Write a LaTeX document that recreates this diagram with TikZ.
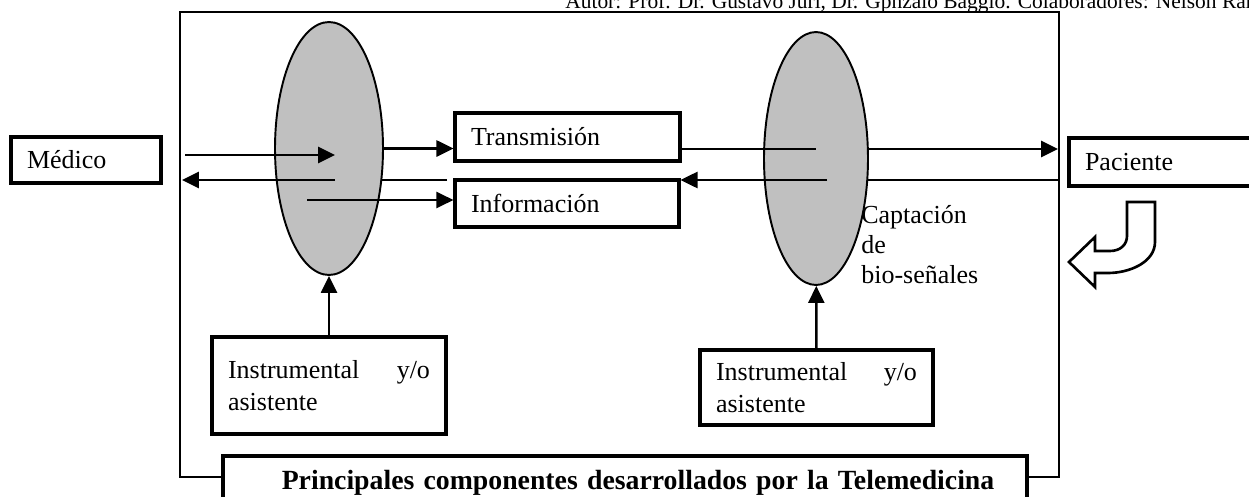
\documentclass[tikz,border=0pt]{standalone}
\usepackage{fontspec}
\setmainfont{Liberation Serif}
\usetikzlibrary{arrows.meta,shapes.geometric,backgrounds}
\definecolor{gris}{RGB}{192,192,192}

\tikzset{
  caja/.style={draw, line width=1.8pt, inner xsep=0.32cm, inner ysep=0pt, align=left,
               font=\fontsize{14.8}{18.2}\selectfont},
  ovalo/.style={ellipse, draw, line width=1.1pt, fill=gris, inner sep=0pt},
  flecha/.style={-{Triangle[length=0.34cm,width=0.32cm]}, line width=1.6pt},
  linea/.style={line width=1.6pt},
  marco/.style={line width=1.2pt},
}

\begin{document}
\begin{tikzpicture}[x=0.02cm,y=-0.02cm]
            \useasboundingbox (0,0) rectangle (1249,497);
            \clip (0,0) rectangle (1249,497);
            \node[anchor=base west, inner sep=0pt, font=\fontsize{12.2}{14}\selectfont] (autor) at (565,9)
                {Autor: Prof. Dr. Gustavo Juri, Dr. Gpnzalo Baggio. Colaboradores: Nelson Ram};
            \draw[marco] (180,12) rectangle (1059,477);

            \node[caja, text width=2.36cm, minimum height=0.92cm](medico)  at (86,160)     {Médico};
            \node[caja, text width=3.86cm, minimum height=0.96cm](trans)   at (567.5,137)  {Transmisión};
            \node[caja, text width=3.84cm, minimum height=0.94cm](info)    at (567,203.5)  {Información};
            \node[caja, text width=3.22cm, minimum height=0.96cm](paciente) at (1165.5,162) {Paciente};
            \node[caja, text width=4.04cm, minimum height=1.94cm](instizq) at (329,385.5)  {Instrumental\hfill y/o\\asistente};
            \node[caja, text width=4.02cm, minimum height=1.50cm](instder) at (816.5,387.5) {Instrumental\hfill y/o\\asistente};
            \node[caja, text width=15.44cm, minimum height=1.08cm, fill=white, align=center,
                  font=\bfseries\fontsize{15.8}{18}\selectfont](titulo) at (625,483)
                {\hspace*{0.52cm}Principales componentes desarrollados por la Telemedicina};

            \node[ovalo, minimum width=2.16cm, minimum height=5.06cm](izq) at (329,148.5) {};
            \node[ovalo, minimum width=2.08cm, minimum height=5.06cm](der) at (816,158.5) {};

            \node[anchor=north west, inner sep=0pt, align=left, font=\fontsize{14.8}{17.1}\selectfont](captacion)
                at (861,205) {Captación\\de\\bio-señales};

            \coordinate (m1) at (185,155);
            \coordinate (m2) at (182,180);
            \coordinate (i1) at (335,155);
            \coordinate (i2) at (335,180);
            \coordinate (i3) at (307,200);
            \coordinate (r1) at (447,180);
            \coordinate (d1) at (816,149);
            \coordinate (d2) at (827,180);
            \coordinate (p1) at (1058,149);
            \coordinate (p2) at (1058,180);

            % lines that run behind the ovals
            \begin{scope}[on background layer]
                \draw[linea] (r1) -- (izq.center |- r1);
                \draw[flecha] (der.center |- p1) -- (p1);
                \draw[linea] (der.center |- p2) -- (p2);
            \end{scope}

            \path
                (m1) edge [flecha] (i1)
                (i2) edge [flecha] (m2)
                (i3) edge [flecha, line width=1.3pt] (i3 -| info.west)
                (izq.east) edge [flecha] (izq.east -| trans.west)
                (trans.east |- d1) edge [linea] (d1)
                (d2) edge [flecha] (d2 -| info.east)
                (instizq) edge [flecha, line width=1.4pt] (izq)
                (instder) edge [flecha, line width=1.4pt] (der)
                ;

            % curved block arrow under the patient
            \draw[line width=1.5pt, fill=white, line join=miter]
                (1127,202) -- (1155,202) -- (1155,242)
                .. controls (1155,262) and (1130,273) .. (1108,273)
                -- (1095,273) -- (1095,287) -- (1069,262) -- (1095,237) -- (1095,251) -- (1110,251)
                .. controls (1120,251) and (1127,245) .. (1127,236) -- cycle;
\end{tikzpicture}
\end{document}
